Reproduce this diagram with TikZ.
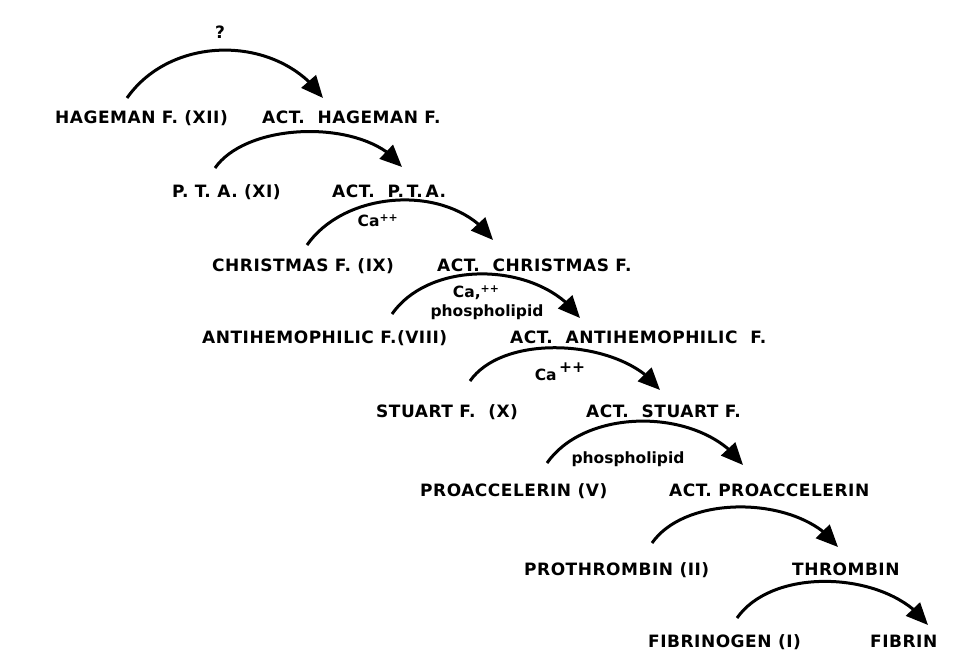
\documentclass[tikz,border=0pt]{standalone}
\usepackage{fontspec}
\setmainfont{DejaVu Sans}
\newfontfamily\factorfont{DejaVu Sans}[LetterSpace=3]
\usetikzlibrary{arrows.meta,bending}

\begin{document}
\begin{tikzpicture}[x=1pt,y=1pt]
  \tikzset{factor/.style={font=\factorfont\bfseries\fontsize{17}{20}\selectfont,inner sep=0pt,anchor=base west},
    cofactor/.style={font=\bfseries\fontsize{15.5}{19}\selectfont,inner sep=0pt,align=center},
    activation/.style={line width=3pt,-{Triangle[length=22pt,width=19pt]},out=55,in=125}}
  \useasboundingbox (0,0) rectangle (966,-657);
  \node[factor] (f12) at (55,-123) {HAGEMAN F. (XII)};
  \node[factor] (af12) at (262,-123) {ACT. \ HAGEMAN F.};
  \node[factor] (f11) at (172,-197) {P. T. A. (XI)};
  \node[factor] (af11) at (332,-197) {ACT. \ P.\,T.\,A.};
  \node[factor] (f9) at (212,-271) {CHRISTMAS F. (IX)};
  \node[factor] (af9) at (437,-271) {ACT. \ CHRISTMAS F.};
  \node[factor] (f8) at (202,-343) {ANTIHEMOPHILIC F.(VIII)};
  \node[factor] (af8) at (510,-343) {ACT. \ ANTIHEMOPHILIC \ F.};
  \node[factor] (f10) at (376,-417) {STUART F. \ (X)};
  \node[factor] (af10) at (586,-417) {ACT. \ STUART F.};
  \node[factor] (f5) at (420,-496) {PROACCELERIN (V)};
  \node[factor] (af5) at (669,-496) {ACT. PROACCELERIN};
  \node[factor] (f2) at (524,-575) {PROTHROMBIN (II)};
  \node[factor] (thr) at (792,-575) {THROMBIN};
  \node[factor] (f1) at (648,-647) {FIBRINOGEN (I)};
  \node[factor] (fib) at (870,-647) {FIBRIN};
  \node[factor,anchor=center] (q12) at (220,-32) {?};
  \node[cofactor] (ca9) at (378,-221) {Ca\textsuperscript{++}};
  \node[cofactor] (ca8) at (487,-303) {Ca,\textsuperscript{++}\hspace*{1.4em}\\phospholipid};
  \node[cofactor] (ca10) at (560,-372) {Ca\,\raisebox{.5em}{++}};
  \node[cofactor] (pl5) at (628,-459) {phospholipid};
  \draw[activation,looseness=1.02] ([shift={(72,25)}]f12.base west) to ([shift={(61,25)}]af12.base west);
  \draw[activation,looseness=0.8] ([shift={(43,29)}]f11.base west) to ([shift={(70,30)}]af11.base west);
  \draw[activation,looseness=0.95] ([shift={(95,26)}]f9.base west) to ([shift={(56,31)}]af9.base west);
  \draw[activation,looseness=0.93] ([shift={(190,29)}]f8.base west) to ([shift={(70,25)}]af8.base west);
  \draw[activation,looseness=0.82] ([shift={(94,36)}]f10.base west) to ([shift={(74,27)}]af10.base west);
  \draw[activation,looseness=0.91] ([shift={(127,33)}]f5.base west) to ([shift={(74,31)}]af5.base west);
  \draw[activation,looseness=0.85] ([shift={(128,32)}]f2.base west) to ([shift={(46,28)}]thr.base west);
  \draw[activation,looseness=0.87] ([shift={(89,29)}]f1.base west) to ([shift={(58,22)}]fib.base west);
\end{tikzpicture}
\end{document}
